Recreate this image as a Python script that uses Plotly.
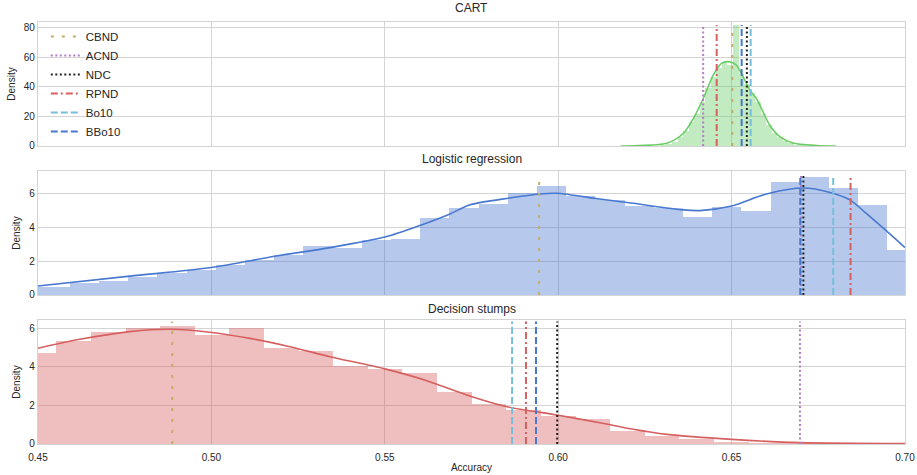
import plotly.graph_objects as go
from plotly.subplots import make_subplots

# ---------------- data ----------------
methods = ["CBND", "ACND", "NDC", "RPND", "Bo10", "BBo10"]
method_colors = ["#C4AD66", "#B47CC7", "#222222", "#D65F5F", "#77BEDB", "#4878CF"]
method_dash = ["3px,8px", "2px,2.5px", "2px,2.5px", "7px,3px,2px,3px", "7px,3px", "7px,3px"]

panel_titles = ["CART", "Logistic regression", "Decision stumps"]

# vertical markers (accuracy) per panel, in methods order
cart_marks = [0.6502, 0.6418, 0.6544, 0.6457, 0.6555, 0.6529]
logreg_marks = [0.5945, 0.6700, 0.6707, 0.6843, 0.6793, 0.6698]
stumps_marks = [0.4887, 0.6697, 0.5997, 0.5907, 0.5867, 0.5936]

# CART histogram (bin left edges and heights)
cart_bin_start = 0.6296
cart_bin_width = 0.0016
cart_hist = [0.5, 1.5, 3, 6, 10, 16, 22, 30, 39, 47, 53, 56, 55, 82, 49, 42,
             36, 30, 22, 14, 9, 6, 3.5, 2, 1, 0.5]
cart_kde_x = [0.618, 0.6216, 0.6313, 0.6361, 0.639, 0.6418, 0.6447, 0.6471, 0.6495,
              0.6514, 0.6533, 0.6553, 0.6572, 0.6591, 0.661, 0.6639, 0.6677, 0.6745, 0.680]
cart_kde_y = [0.0, 0.2, 1.8, 8.6, 18.7, 32, 48, 56, 57, 54.7, 46.8, 37.8, 32, 23, 14,
              6.3, 2.0, 0.3, 0.0]

# Logistic regression histogram
lr_bin_start = 0.44230
lr_bin_width = 0.00842
lr_hist = [0.45, 0.49, 0.68, 0.84, 1.03, 1.31, 1.50, 1.75, 2.08, 2.34, 2.88, 2.79,
           3.22, 3.31, 4.52, 5.15, 5.38, 5.98, 6.43, 5.85, 5.62, 5.26, 5.11, 4.62,
           5.20, 4.97, 6.63, 6.92, 6.28, 5.30, 2.67]
lr_kde_x = [0.45, 0.4765, 0.50, 0.5183, 0.5342, 0.55, 0.5601, 0.5688, 0.5744, 0.586,
            0.5947, 0.5996, 0.612, 0.6216, 0.636, 0.6409, 0.65, 0.6601, 0.6707, 0.6784,
            0.6841, 0.689, 0.6948, 0.70]
lr_kde_y = [0.53, 1.11, 1.62, 2.28, 2.79, 3.41, 4.09, 4.77, 5.30, 5.71, 5.95, 5.99,
            5.65, 5.40, 5.01, 4.97, 5.24, 5.95, 6.30, 6.04, 5.60, 4.77, 3.74, 2.79]

# Decision stumps histogram
ds_bin_start = 0.44532
ds_bin_width = 0.00998
ds_hist = [4.73, 5.34, 5.79, 5.99, 6.13, 5.63, 6.03, 4.99, 4.80, 4.06, 3.87, 3.66,
           2.71, 2.07, 1.76, 1.47, 1.28, 0.67, 0.41, 0.25, 0.12, 0.06, 0.03, 0.02, 0.01]
ds_kde_x = [0.45, 0.4621, 0.4765, 0.4881, 0.4996, 0.5111, 0.5227, 0.5342, 0.55, 0.5621,
            0.5736, 0.5852, 0.5996, 0.612, 0.6216, 0.6313, 0.65, 0.6697, 0.70]
ds_kde_y = [4.96, 5.42, 5.82, 5.94, 5.79, 5.47, 5.04, 4.52, 3.89, 3.28, 2.54, 1.93,
            1.50, 1.10, 0.76, 0.50, 0.24, 0.07, 0.02]

y_ranges = [[0, 84], [0, 7.3], [0, 6.42]]
y_ticks = [[0, 20, 40, 60, 80], [0, 2, 4, 6], [0, 2, 4, 6]]
mark_tops = [82, 7.0, 6.34]
x_ticks = [0.45, 0.50, 0.55, 0.60, 0.65, 0.70]
x_ticklabels = ["0.45", "0.50", "0.55", "0.60", "0.65", "0.70"]

# ---------------- figure ----------------
fig = make_subplots(rows=3, cols=1, shared_xaxes=True, vertical_spacing=0.0593)

panels = [
    (cart_bin_start, cart_bin_width, cart_hist, cart_kde_x, cart_kde_y, "#6ACC65", "rgba(106,204,101,0.4)", cart_marks),
    (lr_bin_start, lr_bin_width, lr_hist, lr_kde_x, lr_kde_y, "#4878CF", "rgba(72,120,207,0.4)", logreg_marks),
    (ds_bin_start, ds_bin_width, ds_hist, ds_kde_x, ds_kde_y, "#D65F5F", "rgba(214,95,95,0.4)", stumps_marks),
]

for r, (b0, bw, hv, kx, ky, lc, fc, marks) in enumerate(panels, start=1):
    centers = [b0 + bw * (i + 0.5) for i in range(len(hv))]
    fig.add_trace(go.Bar(x=centers, y=hv, width=[bw] * len(hv), marker=dict(color=fc, line=dict(width=0)),
                         showlegend=False, hoverinfo="skip"), row=r, col=1)
    fig.add_trace(go.Scatter(x=kx, y=ky, mode="lines", line=dict(color=lc, width=1.6, shape="spline", smoothing=0.8),
                             showlegend=False, hoverinfo="skip"), row=r, col=1)
    for m, name in enumerate(methods):
        fig.add_trace(go.Scatter(x=[marks[m], marks[m]], y=[0, mark_tops[r - 1]], mode="lines",
                                 line=dict(color=method_colors[m], width=2, dash=method_dash[m]),
                                 name=name, legendgroup=name, showlegend=(r == 1)), row=r, col=1)

for r in range(1, 4):
    fig.update_yaxes(range=y_ranges[r - 1], tickvals=y_ticks[r - 1], showgrid=True, gridcolor="#d4d4d4",
                     gridwidth=1, zeroline=False, showline=True, linecolor="#d4d4d4", linewidth=1.3, mirror=True,
                     ticks="", tickfont=dict(size=10, color="#262626"), automargin=False,
                     title=dict(text="Density", font=dict(size=10, color="#262626"), standoff=6),
                     row=r, col=1)
    fig.update_xaxes(range=[0.45, 0.70], tickvals=x_ticks, ticktext=x_ticklabels, showgrid=True,
                     gridcolor="#d4d4d4", gridwidth=1, zeroline=False, showline=True, linecolor="#d4d4d4",
                     linewidth=1.3, mirror=True, ticks="", tickfont=dict(size=10, color="#262626"),
                     ticklabelstandoff=4, automargin=False, showticklabels=(r == 3), row=r, col=1)
fig.update_xaxes(title=dict(text="Accuracy", font=dict(size=10, color="#262626"), standoff=1), row=3, col=1)

# panel titles
title_y_px = [8, 159, 309]
H_plot = 475 - 22 - 31
for t, ypx in zip(panel_titles, title_y_px):
    fig.add_annotation(text=t, x=0.5, xref="paper", y=(444 - ypx) / H_plot, yref="paper",
                       showarrow=False, font=dict(size=12, color="#262626"), yanchor="middle")

fig.update_layout(
    width=917, height=475,
    margin=dict(l=38, r=12, t=22, b=31, autoexpand=False),
    paper_bgcolor="white", plot_bgcolor="white",
    font=dict(family="Liberation Sans, Arial, sans-serif", color="#262626"),
    barmode="overlay", bargap=0,
    legend=dict(x=0.009, y=1.0, xanchor="left", yanchor="top", bgcolor="rgba(0,0,0,0)",
                font=dict(size=11.5, color="#262626"), tracegroupgap=0),
)

fig.write_html("out.html", config={"displayModeBar": False},
               post_script="document.body.style.margin='0';document.body.style.overflow='hidden';")
